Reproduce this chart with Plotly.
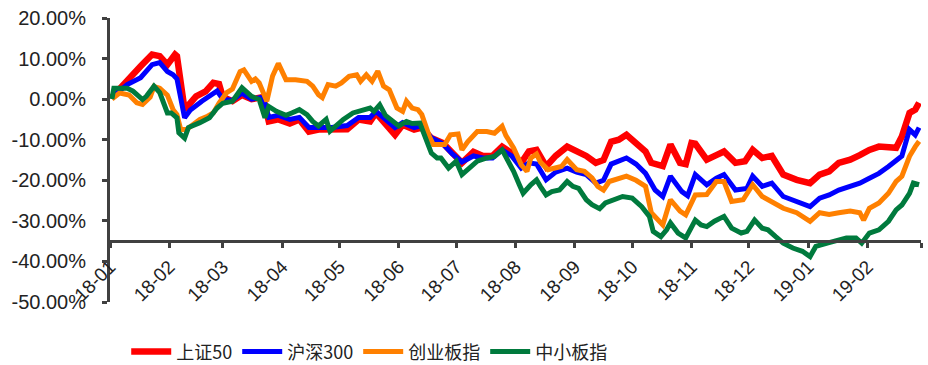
import plotly.graph_objects as go

# ---------------- data (cumulative return, %) ----------------
SZ50_DATES = ["2018-01-02","2018-01-10","2018-01-17","2018-01-23","2018-01-27","2018-01-31","2018-02-04","2018-02-05",
              "2018-02-09","2018-02-15","2018-02-20","2018-02-24","2018-02-27","2018-03-01","2018-03-06","2018-03-11",
              "2018-03-16","2018-03-22","2018-03-25","2018-03-30","2018-04-05","2018-04-10","2018-04-15","2018-04-20",
              "2018-04-27","2018-05-05","2018-05-11","2018-05-17","2018-05-20","2018-05-25","2018-05-30","2018-06-03",
              "2018-06-09","2018-06-13","2018-06-18","2018-06-24","2018-06-29","2018-07-04","2018-07-10","2018-07-15",
              "2018-07-20","2018-07-25","2018-07-30","2018-08-04","2018-08-08","2018-08-12","2018-08-17","2018-08-22",
              "2018-08-28","2018-09-02","2018-09-07","2018-09-12","2018-09-16","2018-09-20","2018-09-24","2018-09-28",
              "2018-10-03","2018-10-08","2018-10-11","2018-10-17","2018-10-21","2018-10-26","2018-10-29","2018-11-01",
              "2018-11-03","2018-11-09","2018-11-14","2018-11-18","2018-11-24","2018-11-29","2018-12-03","2018-12-08",
              "2018-12-13","2018-12-19","2018-12-26","2019-01-02","2019-01-07","2019-01-12","2019-01-17","2019-01-23",
              "2019-01-28","2019-02-02","2019-02-07","2019-02-12","2019-02-16","2019-02-19","2019-02-23","2019-02-26",
              "2019-02-28"]
SZ50_VALUES = [0.5, 4.8, 8.1, 11.0, 10.6, 8.5, 11.0, 10.6,
               -2.6, 0.7, 1.9, 4.0, 3.7, 0.5, -0.5, 1.0,
               0.0, 0.5, -5.5, -5.0, -6.0, -5.0, -8.0, -7.5,
               -7.5, -7.4, -5.0, -5.5, -3.4, -6.0, -8.8, -6.3,
               -7.5, -7.0, -9.6, -10.8, -13.3, -15.7, -13.0, -14.0,
               -14.0, -11.7, -13.3, -15.7, -12.9, -12.5, -16.6, -14.0,
               -11.7, -12.9, -14.0, -15.7, -15.0, -10.5, -10.0, -8.8,
               -10.8, -12.9, -15.7, -16.5, -11.2, -15.7, -16.0, -10.8,
               -11.0, -14.9, -13.8, -12.9, -15.7, -15.3, -12.5, -14.5,
               -14.0, -18.6, -19.9, -20.7, -18.6, -17.8, -15.7, -14.9,
               -13.8, -12.5, -11.7, -11.7, -12.0, -9.2, -3.4, -2.6,
               -0.9]

HS300_DATES = ["2018-01-02","2018-01-10","2018-01-17","2018-01-23","2018-01-27","2018-01-31","2018-02-03","2018-02-05",
               "2018-02-09","2018-02-12","2018-02-18","2018-02-26","2018-03-01","2018-03-06","2018-03-11","2018-03-16",
               "2018-03-22","2018-03-25","2018-03-30","2018-04-05","2018-04-10","2018-04-15","2018-04-20","2018-04-27",
               "2018-05-05","2018-05-11","2018-05-17","2018-05-20","2018-05-25","2018-05-30","2018-06-03","2018-06-09",
               "2018-06-13","2018-06-18","2018-06-24","2018-06-29","2018-07-04","2018-07-10","2018-07-15","2018-07-20",
               "2018-07-25","2018-07-30","2018-08-04","2018-08-08","2018-08-12","2018-08-17","2018-08-22","2018-08-28",
               "2018-09-02","2018-09-07","2018-09-12","2018-09-16","2018-09-20","2018-09-24","2018-09-28","2018-10-03",
               "2018-10-08","2018-10-13","2018-10-17","2018-10-21","2018-10-27","2018-10-30","2018-11-03","2018-11-09",
               "2018-11-14","2018-11-18","2018-11-24","2018-11-30","2018-12-03","2018-12-08","2018-12-13","2018-12-19",
               "2018-12-26","2019-01-02","2019-01-07","2019-01-12","2019-01-17","2019-01-23","2019-01-28","2019-02-02",
               "2019-02-07","2019-02-12","2019-02-16","2019-02-19","2019-02-23","2019-02-26","2019-02-28"]
HS300_VALUES = [0.5, 3.6, 5.3, 8.5, 9.0, 6.8, 6.0, 5.0,
                -4.6, -2.7, -0.5, 2.0, 0.0, -0.3, 1.5, 0.0,
                0.5, -4.5, -4.0, -5.0, -4.5, -7.0, -7.0, -7.0,
                -6.5, -4.5, -4.5, -3.0, -5.0, -7.0, -5.8, -7.0,
                -6.5, -9.5, -11.0, -13.5, -15.5, -14.0, -14.5, -14.5,
                -12.5, -14.0, -17.0, -15.7, -16.0, -19.9, -18.0, -17.0,
                -18.0, -18.6, -20.7, -20.0, -16.0, -15.3, -14.5, -16.0,
                -18.3, -22.4, -24.0, -19.0, -22.8, -23.8, -18.6, -21.1,
                -19.5, -18.6, -22.4, -22.0, -19.0, -21.5, -20.7, -24.0,
                -25.2, -26.5, -24.4, -23.6, -22.4, -21.5, -20.7, -19.5,
                -18.3, -16.6, -15.0, -14.0, -7.5, -8.8, -7.0]

CYB_DATES = ["2018-01-02","2018-01-06","2018-01-11","2018-01-15","2018-01-18","2018-01-22","2018-01-24","2018-01-27",
             "2018-01-31","2018-02-03","2018-02-05","2018-02-07","2018-02-10","2018-02-13","2018-02-17","2018-02-21",
             "2018-02-24","2018-02-27","2018-03-03","2018-03-06","2018-03-10","2018-03-12","2018-03-16","2018-03-18",
             "2018-03-20","2018-03-24","2018-03-27","2018-03-30","2018-04-03","2018-04-08","2018-04-14","2018-04-17",
             "2018-04-20","2018-04-22","2018-04-25","2018-04-29","2018-05-02","2018-05-06","2018-05-10","2018-05-12",
             "2018-05-15","2018-05-18","2018-05-21","2018-05-24","2018-05-27","2018-05-31","2018-06-03","2018-06-05",
             "2018-06-08","2018-06-11","2018-06-13","2018-06-17","2018-06-19","2018-06-25","2018-06-28","2018-07-02",
             "2018-07-04","2018-07-07","2018-07-12","2018-07-17","2018-07-21","2018-07-25","2018-07-27","2018-07-31",
             "2018-08-04","2018-08-07","2018-08-09","2018-08-12","2018-08-14","2018-08-18","2018-08-21","2018-08-25",
             "2018-08-28","2018-08-30","2018-09-02","2018-09-06","2018-09-10","2018-09-13","2018-09-16","2018-09-19",
             "2018-09-24","2018-09-28","2018-10-03","2018-10-08","2018-10-11","2018-10-17","2018-10-21","2018-10-26",
             "2018-10-29","2018-11-03","2018-11-09","2018-11-14","2018-11-18","2018-11-22","2018-11-28","2018-12-03",
             "2018-12-08","2018-12-13","2018-12-19","2018-12-26","2019-01-02","2019-01-07","2019-01-12","2019-01-17",
             "2019-01-23","2019-01-28","2019-01-30","2019-02-02","2019-02-07","2019-02-12","2019-02-16","2019-02-19",
             "2019-02-23","2019-02-26","2019-02-28"]
CYB_VALUES = [0.0, 1.5, 1.0, -0.9, -1.3, 0.5, 3.1, 2.7,
              1.0, -2.6, -3.8, -7.5, -7.5, -6.3, -5.0, -4.2,
              -3.4, -1.0, 1.6, 2.5, 6.8, 7.2, 4.4, 5.0,
              4.0, -0.5, 5.7, 8.8, 4.8, 4.8, 4.4, 3.2,
              1.1, 0.4, 3.6, 3.2, 4.0, 5.6, 6.0, 4.4,
              6.0, 4.4, 6.9, 3.2, 2.3, -2.2, -3.0, -0.5,
              -2.2, -2.6, -3.8, -9.2, -11.2, -11.2, -8.8, -8.6,
              -12.5, -10.5, -8.0, -8.0, -8.4, -6.7, -9.0, -12.0,
              -16.2, -17.8, -14.5, -13.5, -15.5, -17.4, -17.0, -16.6,
              -14.9, -16.0, -17.4, -17.8, -19.4, -21.5, -22.4, -20.3,
              -19.5, -19.0, -20.0, -21.5, -28.0, -31.0, -24.8, -27.6,
              -28.5, -23.6, -23.5, -20.3, -20.3, -25.2, -24.8, -21.1,
              -24.0, -25.2, -26.9, -28.0, -30.1, -28.0, -28.4, -28.0,
              -27.6, -28.0, -29.8, -26.9, -25.6, -23.2, -20.3, -19.0,
              -14.1, -11.7, -10.4]

ZXB_DATES = ["2018-01-02","2018-01-03","2018-01-10","2018-01-13","2018-01-18","2018-01-20","2018-01-24","2018-01-27",
             "2018-01-31","2018-02-02","2018-02-05","2018-02-06","2018-02-09","2018-02-11","2018-02-17","2018-02-22",
             "2018-02-26","2018-03-01","2018-03-06","2018-03-11","2018-03-16","2018-03-20","2018-03-23","2018-03-25",
             "2018-03-29","2018-04-03","2018-04-06","2018-04-10","2018-04-14","2018-04-17","2018-04-20","2018-04-24",
             "2018-04-26","2018-04-29","2018-05-03","2018-05-08","2018-05-12","2018-05-17","2018-05-19","2018-05-22",
             "2018-05-25","2018-05-29","2018-06-01","2018-06-05","2018-06-08","2018-06-12","2018-06-15","2018-06-18",
             "2018-06-21","2018-06-23","2018-06-27","2018-07-01","2018-07-04","2018-07-08","2018-07-12","2018-07-17",
             "2018-07-21","2018-07-25","2018-07-28","2018-07-31","2018-08-03","2018-08-05","2018-08-09","2018-08-12",
             "2018-08-14","2018-08-17","2018-08-20","2018-08-24","2018-08-28","2018-08-31","2018-09-03","2018-09-07",
             "2018-09-10","2018-09-14","2018-09-17","2018-09-21","2018-09-26","2018-10-01","2018-10-06","2018-10-10",
             "2018-10-12","2018-10-16","2018-10-19","2018-10-21","2018-10-25","2018-10-29","2018-11-03","2018-11-06",
             "2018-11-09","2018-11-13","2018-11-18","2018-11-22","2018-11-27","2018-11-30","2018-12-04","2018-12-08",
             "2018-12-11","2018-12-15","2018-12-19","2018-12-24","2018-12-29","2019-01-02","2019-01-05","2019-01-11",
             "2019-01-16","2019-01-21","2019-01-26","2019-01-29","2019-02-02","2019-02-07","2019-02-12","2019-02-16",
             "2019-02-19","2019-02-23","2019-02-25","2019-02-28"]
ZXB_VALUES = [0.0, 2.7, 2.7, 2.0, -0.1, 0.7, 3.2, 1.6,
              -3.4, -3.4, -4.6, -8.3, -9.6, -7.0, -5.8, -4.6,
              -2.2, -1.0, -0.5, 2.8, 0.7, -0.1, -4.6, -1.8,
              -3.0, -4.0, -3.4, -2.6, -3.8, -5.5, -6.6, -5.0,
              -7.9, -6.6, -5.0, -3.4, -3.0, -2.2, -3.0, -1.4,
              -4.0, -5.5, -6.6, -5.5, -6.0, -5.9, -9.6, -13.3,
              -14.5, -14.5, -17.0, -15.3, -18.6, -17.0, -15.3, -14.5,
              -14.1, -12.5, -15.0, -17.8, -21.1, -23.2, -21.1, -19.9,
              -21.5, -23.6, -22.8, -22.4, -20.3, -21.5, -22.0, -24.8,
              -26.0, -27.0, -25.6, -24.8, -24.0, -24.4, -26.5, -28.9,
              -32.6, -33.9, -32.2, -30.5, -33.0, -34.2, -29.8, -31.0,
              -31.4, -30.1, -28.9, -31.8, -33.0, -32.6, -29.8, -31.8,
              -32.2, -33.9, -35.5, -36.7, -37.5, -38.8, -36.3, -35.5,
              -35.0, -34.2, -34.2, -35.5, -33.0, -32.2, -30.1, -27.3,
              -26.1, -23.2, -20.7, -21.1]

SERIES_NAMES = ["上证50", "沪深300", "创业板指", "中小板指"]
SERIES_COLORS = ["#FF0000", "#0000FF", "#FF8000", "#007A3D"]
SERIES_WIDTHS = [6.5, 5, 5, 5]

X_TICK_VALS = ["2018-01-01","2018-02-01","2018-03-01","2018-04-01","2018-05-01","2018-06-01","2018-07-01",
               "2018-08-01","2018-09-01","2018-10-01","2018-11-01","2018-12-01","2019-01-01","2019-02-01","2019-03-01"]
X_TICK_TEXT = ["18-01","18-02","18-03","18-04","18-05","18-06","18-07",
               "18-08","18-09","18-10","18-11","18-12","19-01","19-02",""]
Y_TICK_VALS = [20, 10, 0, -10, -20, -30, -40, -50]
Y_TICK_TEXT = ["20.00%","10.00%","0.00%","-10.00%","-20.00%","-30.00%","-40.00%","-50.00%"]

Y_MIN, Y_MAX = -50, 20
X_CROSS_VALUE = -35  # value where the horizontal axis crosses

# ---------------- figure ----------------
fig = go.Figure()
all_dates = [SZ50_DATES, HS300_DATES, CYB_DATES, ZXB_DATES]
all_vals = [SZ50_VALUES, HS300_VALUES, CYB_VALUES, ZXB_VALUES]
for name, color, w, xs, ys in zip(SERIES_NAMES, SERIES_COLORS, SERIES_WIDTHS, all_dates, all_vals):
    fig.add_trace(go.Scatter(x=xs, y=ys, mode="lines", name=name,
                             line=dict(color=color, width=w)))

axis_color = "#404040"
fig.update_layout(
    width=928, height=365,
    margin=dict(l=110, r=7, t=18, b=63, autoexpand=False),
    paper_bgcolor="white", plot_bgcolor="white",
    font=dict(family="Liberation Sans, Arial, sans-serif", size=20, color="#222222"),
    showlegend=True,
    legend=dict(orientation="h", x=0.02, xanchor="left",
                yref="container", y=0.036, yanchor="middle",
                font=dict(family="Noto Sans CJK SC", size=18, color="#222222"),
                itemwidth=40, bgcolor="rgba(0,0,0,0)"),
    xaxis=dict(type="date", range=["2018-01-01", "2019-03-01"],
               tickvals=X_TICK_VALS, ticktext=X_TICK_TEXT, tickangle=-45,
               showgrid=False, zeroline=False,
               showline=True, linecolor=axis_color, linewidth=3,
               ticks="outside", ticklen=5, tickwidth=3, tickcolor=axis_color,
               anchor="free", position=(X_CROSS_VALUE - Y_MIN) / (Y_MAX - Y_MIN),
               automargin=False, tickfont=dict(size=19)),
    yaxis=dict(range=[Y_MIN, Y_MAX], tickvals=Y_TICK_VALS, ticktext=Y_TICK_TEXT,
               showgrid=False, zeroline=False,
               showline=True, linecolor=axis_color, linewidth=3,
               ticks="outside", ticklen=5, tickwidth=3, tickcolor=axis_color,
               ticklabelstandoff=12, automargin=False, tickfont=dict(size=20)),
)

fig.write_html("out.html")
